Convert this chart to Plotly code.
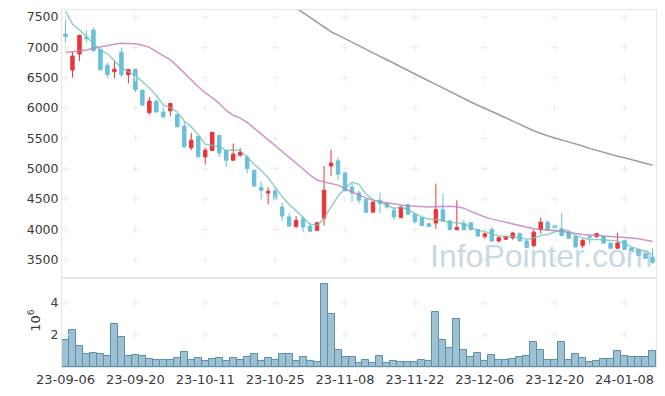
import plotly.graph_objects as go
from plotly.subplots import make_subplots

dates = [
    "23-09-06", "23-09-07", "23-09-08", "23-09-11", "23-09-12", "23-09-13", "23-09-14", "23-09-15", "23-09-18", "23-09-19",
    "23-09-20", "23-09-21", "23-09-22", "23-09-25", "23-09-26", "23-09-27", "23-10-04", "23-10-05", "23-10-06", "23-10-10",
    "23-10-11", "23-10-12", "23-10-13", "23-10-16", "23-10-17", "23-10-18", "23-10-19", "23-10-20", "23-10-23", "23-10-24",
    "23-10-25", "23-10-26", "23-10-27", "23-10-30", "23-10-31", "23-11-01", "23-11-02", "23-11-03", "23-11-06", "23-11-07",
    "23-11-08", "23-11-09", "23-11-10", "23-11-13", "23-11-14", "23-11-15", "23-11-16", "23-11-17", "23-11-20", "23-11-21",
    "23-11-22", "23-11-23", "23-11-24", "23-11-27", "23-11-28", "23-11-29", "23-11-30", "23-12-01", "23-12-04", "23-12-05",
    "23-12-06", "23-12-07", "23-12-08", "23-12-11", "23-12-12", "23-12-13", "23-12-14", "23-12-15", "23-12-18", "23-12-19",
    "23-12-20", "23-12-21", "23-12-22", "23-12-26", "23-12-27", "23-12-28", "24-01-02", "24-01-03", "24-01-04", "24-01-05",
    "24-01-08", "24-01-09", "24-01-10", "24-01-11", "24-01-12",
]

open_ = [7220, 6625, 6890, 7165, 7285, 6965, 6705, 6600, 6920, 6550,
         6640, 6295, 5925, 6110, 5935, 5955, 5895, 5700, 5345, 5535,
         5195, 5300, 5545, 5300, 5140, 5225, 5185, 4975, 4690, 4600,
         4635, 4370, 4205, 4050, 4175, 4055, 3985, 4185, 5045, 5130,
         4930, 4700, 4600, 4495, 4285, 4480, 4425, 4315, 4195, 4410,
         4250, 4195, 4095, 4105, 4325, 4140, 3995, 4095, 4110, 4000,
         3885, 4000, 3810, 3840, 3860, 3930, 3810, 3735, 3995, 4120,
         4060, 4010, 3955, 3885, 3735, 3885, 3885, 3885, 3775, 3690,
         3820, 3695, 3670, 3600, 3545]
high = [7490, 6925, 7200, 7280, 7330, 6975, 6745, 6770, 7000, 6640,
        6640, 6300, 6185, 6140, 6020, 6080, 5900, 5770, 5590, 5540,
        5350, 5605, 5550, 5305, 5415, 5340, 5235, 4980, 4790, 4690,
        4690, 4440, 4275, 4220, 4230, 4110, 4120, 5045, 5315, 5185,
        4960, 4760, 4640, 4500, 4455, 4605, 4430, 4370, 4385, 4420,
        4255, 4200, 4100, 4755, 4590, 4160, 4480, 4160, 4115, 4005,
        3955, 4040, 3885, 3900, 3960, 3950, 3830, 3995, 4195, 4145,
        4075, 4270, 3960, 3890, 3845, 3890, 3945, 3890, 3780, 3945,
        3830, 3700, 3680, 3610, 3690]
low = [7080, 6500, 6775, 7080, 6920, 6620, 6490, 6490, 6505, 6405,
       6255, 6030, 5890, 5930, 5835, 5865, 5680, 5355, 5305, 5190,
       5070, 5295, 5195, 5030, 5135, 5195, 4920, 4710, 4495, 4415,
       4480, 4140, 4050, 4020, 3955, 3965, 3980, 4065, 4880, 4810,
       4630, 4450, 4425, 4270, 4280, 4270, 4340, 4150, 4190, 4240,
       4095, 4060, 4045, 4010, 4135, 3995, 3990, 3990, 3990, 3880,
       3845, 3800, 3785, 3825, 3830, 3805, 3695, 3705, 3930, 3990,
       4015, 3885, 3850, 3705, 3690, 3750, 3860, 3765, 3685, 3685,
       3665, 3640, 3565, 3520, 3435]
close = [7180, 6855, 7200, 7140, 6945, 6630, 6550, 6640, 6550, 6635,
         6300, 6050, 6115, 5935, 5855, 6075, 5690, 5360, 5470, 5195,
         5305, 5600, 5260, 5140, 5240, 5270, 5000, 4715, 4645, 4630,
         4495, 4220, 4055, 4150, 4040, 3970, 4110, 4645, 5095, 4910,
         4635, 4600, 4480, 4285, 4450, 4425, 4370, 4205, 4370, 4250,
         4130, 4065, 4050, 4325, 4140, 4000, 4030, 3995, 3995, 3890,
         3930, 3810, 3865, 3885, 3940, 3810, 3700, 3955, 4120, 3995,
         4025, 3900, 3855, 3710, 3820, 3870, 3930, 3775, 3690, 3775,
         3670, 3655, 3570, 3525, 3460]

ma5 = [7600, 7384, 7285, 7170, 7064, 6954, 6893, 6781, 6663, 6601,
       6535, 6435, 6330, 6207, 6051, 6006, 5934, 5783, 5690, 5558,
       5404, 5386, 5366, 5300, 5309, 5302, 5182, 5073, 4974, 4852,
       4697, 4541, 4409, 4310, 4192, 4087, 4065, 4183, 4372, 4546,
       4679, 4777, 4744, 4582, 4490, 4448, 4402, 4347, 4364, 4324,
       4265, 4204, 4173, 4164, 4142, 4116, 4109, 4098, 4032, 3982,
       3968, 3924, 3898, 3876, 3886, 3862, 3840, 3858, 3905, 3916,
       3959, 3999, 3979, 3897, 3862, 3831, 3837, 3821, 3817, 3808,
       3768, 3713, 3672, 3639, 3576]
ma20 = [6916, 6925, 6935, 6955, 6985, 7010, 7030, 7050, 7066, 7066,
        7060, 7035, 7000, 6930, 6860, 6795, 6690, 6575, 6460, 6350,
        6250, 6170, 6075, 5960, 5880, 5835, 5765, 5670, 5570, 5480,
        5390, 5290, 5195, 5100, 4995, 4895, 4815, 4780, 4755, 4730,
        4670, 4615, 4565, 4520, 4480, 4455, 4436, 4415, 4396, 4388,
        4380, 4374, 4368, 4375, 4380, 4380, 4375, 4350, 4297, 4245,
        4205, 4170, 4145, 4120, 4085, 4060, 4035, 4010, 3998, 3992,
        3986, 3970, 3948, 3930, 3915, 3907, 3901, 3893, 3885, 3880,
        3873, 3860, 3845, 3825, 3802]
ma60 = [None] * 33 + [
    7650, 7570, 7490, 7410, 7335, 7257, 7200, 7140, 7085, 7025,
    6970, 6910, 6850, 6795, 6735, 6680, 6620, 6560, 6505, 6445,
    6390, 6330, 6275, 6215, 6160, 6100, 6045, 5995, 5950, 5895,
    5840, 5785, 5730, 5675, 5625, 5580, 5540, 5505, 5475, 5445,
    5410, 5375, 5335, 5300, 5265, 5235, 5205, 5180, 5150, 5120,
    5090, 5057]

volume_m = [1.66, 2.28, 1.33, 0.82, 0.88, 0.82, 0.69, 2.69, 1.85, 0.69,
            0.75, 0.69, 0.50, 0.43, 0.43, 0.43, 0.56, 0.95, 0.43, 0.56,
            0.37, 0.50, 0.56, 0.37, 0.56, 0.43, 0.63, 0.82, 0.37, 0.56,
            0.43, 0.82, 0.82, 0.37, 0.63, 0.37, 0.30, 5.18, 3.33, 1.08,
            0.63, 0.63, 0.24, 0.43, 0.24, 0.69, 0.24, 0.37, 0.30, 0.30,
            0.30, 0.43, 0.37, 3.40, 1.66, 1.20, 3.01, 1.08, 0.63, 0.88,
            0.37, 0.75, 0.43, 0.43, 0.50, 0.63, 0.69, 1.59, 1.08, 0.43,
            0.43, 1.53, 0.43, 0.82, 0.56, 0.30, 0.37, 0.50, 0.50, 1.01,
            0.69, 0.63, 0.63, 0.63, 1.01]

price_ticks = [3500, 4000, 4500, 5000, 5500, 6000, 6500, 7000, 7500]
vol_ticks = [2, 4]
x_ticks = dates[::10]

RED = "#ee3338"
BLUE = "#68c0da"
GRID = "#ebebeb"
AXIS = "#e6e6e6"
TXT = "#3a3a3a"
FONT = "DejaVu Sans"

fig = make_subplots(rows=2, cols=1, shared_xaxes=True, vertical_spacing=0,
                    row_heights=[0.7507, 0.2493])

# grid crosses
fig.add_trace(go.Scatter(
    x=[d for d in x_ticks for _ in price_ticks],
    y=[p for _ in x_ticks for p in price_ticks],
    mode="markers", hoverinfo="skip",
    marker=dict(symbol="cross-thin", size=5, line=dict(color=GRID, width=1)),
), row=1, col=1)
fig.add_trace(go.Scatter(
    x=[d for d in x_ticks for _ in vol_ticks],
    y=[v for _ in x_ticks for v in vol_ticks],
    mode="markers", hoverinfo="skip",
    marker=dict(symbol="cross-thin", size=5, line=dict(color=GRID, width=1)),
), row=2, col=1)

fig.add_trace(go.Candlestick(
    x=dates, open=open_, high=high, low=low, close=close,
    increasing=dict(line=dict(color=RED, width=1), fillcolor=RED),
    decreasing=dict(line=dict(color=BLUE, width=1), fillcolor=BLUE),
    whiskerwidth=0,
), row=1, col=1)

fig.add_trace(go.Scatter(x=dates, y=ma60, mode="lines",
                         line=dict(color="rgba(140,140,140,0.85)", width=1.5)), row=1, col=1)
fig.add_trace(go.Scatter(x=dates, y=ma20, mode="lines",
                         line=dict(color="rgba(195,120,190,0.8)", width=1.5)), row=1, col=1)
fig.add_trace(go.Scatter(x=dates, y=ma5, mode="lines",
                         line=dict(color="rgba(110,195,175,0.75)", width=1.5)), row=1, col=1)

fig.add_trace(go.Bar(x=dates, y=volume_m,
                     marker=dict(color="rgba(140,182,202,0.85)",
                                 line=dict(color="#5a90a8", width=1))), row=2, col=1)

fig.update_layout(
    width=665, height=396,
    margin=dict(l=62, r=9, t=10, b=29),
    paper_bgcolor="white", plot_bgcolor="white",
    showlegend=False, bargap=0, boxgap=0.3,
    font=dict(family=FONT, size=12, color=TXT),
)
fig.update_xaxes(type="category", categoryorder="array", categoryarray=dates,
                 range=[-0.5, len(dates) - 0.5],
                 tickvals=x_ticks, ticktext=x_ticks, ticks="",
                 showgrid=False, zeroline=False,
                 showline=True, linecolor=AXIS, linewidth=1, mirror=True,
                 rangeslider=dict(visible=False))
fig.update_xaxes(showticklabels=False, row=1, col=1)
fig.update_xaxes(showticklabels=True, tickfont=dict(size=13), row=2, col=1)
fig.update_yaxes(range=[3200, 7615], tickvals=price_ticks, ticks="",
                 showgrid=False, zeroline=False, showline=True, linecolor=AXIS,
                 mirror=True, tickfont=dict(size=12.5), row=1, col=1)
fig.update_yaxes(range=[0, 5.55], tickvals=vol_ticks, ticks="",
                 showgrid=False, zeroline=False, showline=True, linecolor=AXIS,
                 mirror=True, tickfont=dict(size=12.5), row=2, col=1)

fig.add_annotation(text="10<sup>6</sup>", textangle=-90, showarrow=False,
                   xref="paper", yref="paper", x=-0.047, y=0.13,
                   xanchor="center", yanchor="middle",
                   font=dict(size=13, color=TXT, family=FONT))
fig.add_annotation(text="InfoPointer.com", showarrow=False,
                   xref="paper", yref="paper", x=0.997, y=0.311,
                   xanchor="right", yanchor="middle",
                   font=dict(size=32, color="rgba(160,193,212,0.62)",
                             family="Liberation Sans"))

fig.write_html("out.html", config={"displayModeBar": False},
               post_script="document.body.style.margin='0';document.body.style.overflow='hidden';")
